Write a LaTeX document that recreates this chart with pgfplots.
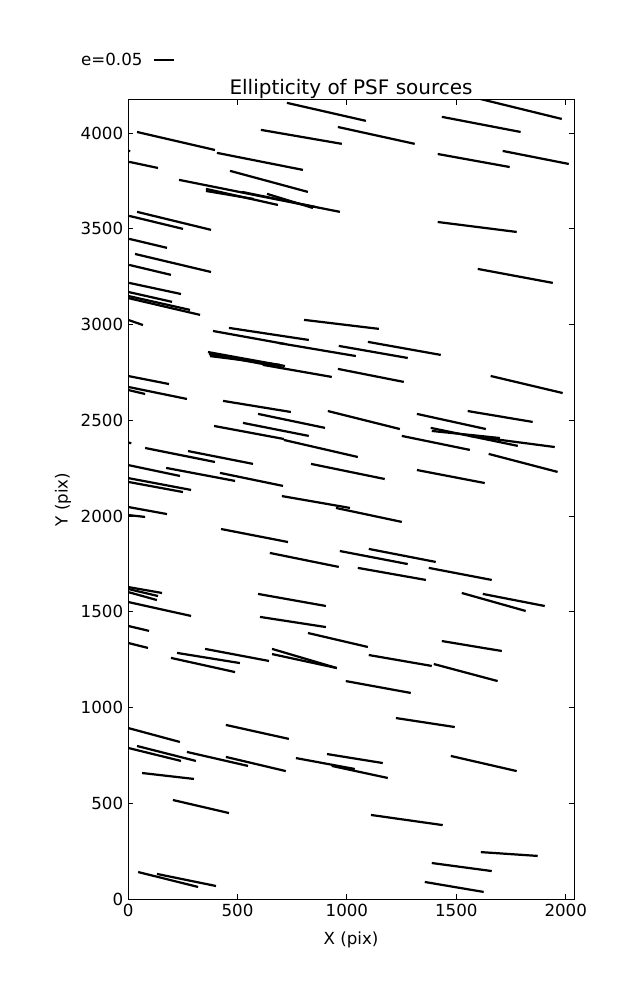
\documentclass[border=0pt]{standalone}
\usepackage{fontspec}
\setmainfont{DejaVu Sans}
\usepackage{pgfplots}
\pgfplotsset{compat=1.18}
\usepackage{pgfplotstable}
\pgfplotstableread{
x1 y1 x2 y2
726 4157 1087 4063
1600 4180 1982 4073
41 4005 397 3911
607 4016 977 3943
959 4031 1310 3943
1434 4084 1794 4005
1415 3890 1744 3822
1712 3906 2014 3838
-100 3925 10 3905
5 3849 137 3817
406 3896 799 3807
466 3802 822 3692
233 3755 600 3671
600 3671 968 3588
356 3708 685 3624
356 3697 575 3655
521 3692 854 3614
635 3682 845 3608
41 3588 379 3494
5 3567 251 3499
5 3447 178 3400
32 3368 379 3274
5 3311 196 3259
5 3217 242 3159
0 3170 201 3118
0 3149 283 3076
0 3138 329 3050
0 3024 68 2997
804 3024 1146 2977
461 2982 826 2919
388 2966 717 2898
689 2903 1041 2835
963 2888 1278 2825
1096 2909 1429 2841
365 2856 717 2783
370 2846 712 2773
374 2835 694 2789
616 2789 931 2726
959 2768 1260 2700
0 2731 187 2689
0 2674 269 2611
0 2658 78 2637
434 2601 744 2543
913 2548 1242 2454
594 2533 900 2460
525 2486 826 2418
393 2470 712 2402
712 2397 1050 2308
-50 2395 15 2380
78 2355 397 2282
274 2339 571 2272
0 2266 237 2209
174 2251 489 2183
420 2225 708 2157
0 2198 288 2136
0 2178 251 2125
836 2272 1173 2193
703 2104 1014 2042
1657 2731 1986 2642
1320 2533 1635 2454
1552 2548 1849 2491
1383 2460 1781 2366
1388 2444 1699 2407
1562 2418 1950 2360
1251 2418 1562 2345
1648 2324 1963 2230
1320 2240 1630 2172
950 2042 1251 1969
0 2047 178 2010
0 2005 78 1995
425 1932 731 1864
648 1807 963 1734
968 1817 1278 1749
1100 1828 1406 1760
1050 1729 1361 1666
1374 1729 1662 1666
1525 1598 1817 1504
1621 1593 1904 1530
0 1629 155 1598
0 1619 137 1582
0 1603 132 1561
0 1551 288 1478
594 1593 904 1530
603 1473 904 1420
0 1426 96 1400
0 1337 91 1311
822 1389 1096 1316
352 1306 644 1243
224 1285 511 1232
196 1259 489 1185
658 1306 954 1206
658 1279 954 1206
1434 1347 1708 1295
1100 1274 1388 1217
1397 1227 1689 1138
995 1138 1292 1076
0 893 237 820
447 909 735 836
41 799 310 721
0 789 242 721
269 768 548 695
447 742 721 668
64 658 301 627
909 757 1164 710
767 736 1036 679
931 695 1187 632
205 517 461 449
46 141 320 63
132 131 402 68
1224 945 1493 898
1475 747 1776 668
1110 439 1438 386
1612 245 1872 225
1388 188 1662 146
1356 89 1625 37
1415 3535 1776 3483
1598 3290 1941 3217
}\segs

\begin{document}
\begin{tikzpicture}
\useasboundingbox (-92.2pt,-72.7pt) rectangle (366.4pt,647.3pt);
\begin{axis}[
  at={(0,0)}, anchor=south west,
  scale only axis, width=321.1pt, height=575.3pt,
  xmin=0, xmax=2038, ymin=0, ymax=4172,
  xtick={0,500,...,2000}, ytick={0,500,...,4000},
  tick align=inside,
  major tick length=3.6pt,
  tick style={black, line width=0.6pt},
  axis line style={line width=0.72pt},
  font=\fontsize{12}{14}\selectfont,
  /pgf/number format/assume math mode=true,
  /pgf/number format/set thousands separator={},
  xlabel={X (pix)}, ylabel={Y (pix)},
  xlabel style={yshift=-4pt},
  ylabel style={yshift=0pt},
  title={Ellipticity of PSF sources},
  title style={font=\fontsize{14.4}{16}\selectfont, yshift=-8.5pt},
  legend plot pos=right,
  legend image code/.code={\path (0cm,0cm); \draw[#1] (0.2cm,0cm) -- (0.7cm,0cm);},
  legend style={at={(-0.112,1.05)}, anchor=west, draw=none, fill=none, inner sep=0pt,
    font=\fontsize{12}{14}\selectfont},
]
\addplot[black, line width=1.6pt, forget plot,
  quiver={u=\thisrow{x2}-\thisrow{x1}, v=\thisrow{y2}-\thisrow{y1}}]
  table[x=x1, y=y1] {\segs};
\addlegendimage{black, line width=1.6pt}
\addlegendentry{e=0.05}
\end{axis}
\end{tikzpicture}
\end{document}
